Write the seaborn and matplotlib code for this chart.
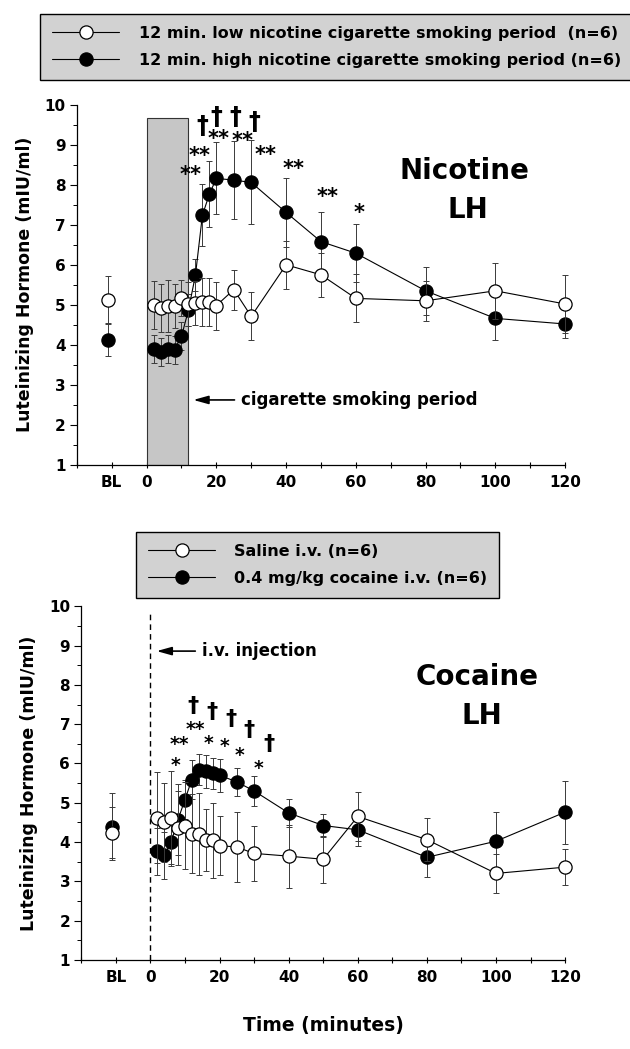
import numpy as np
import pandas as pd
import matplotlib
matplotlib.use("Agg")
import matplotlib.pyplot as plt
from matplotlib.lines import Line2D
from matplotlib.patches import Rectangle
import seaborn as sns

# ######################### Data #########################

TIMES = [2, 4, 6, 8, 10, 12, 14, 16, 18, 20, 25, 30, 40, 50, 60, 80, 100, 120]
BL_X = -11

low_nic    = [4.99, 4.91, 4.98, 4.96, 5.16, 5.02, 5.04, 5.06, 5.08, 4.98, 5.38, 4.71, 6.00, 5.75, 5.16, 5.10, 5.35, 5.02]
low_nic_se = [0.60, 0.60, 0.65, 0.55, 0.45, 0.55, 0.55, 0.60, 0.60, 0.60, 0.50, 0.60, 0.60, 0.55, 0.60, 0.50, 0.70, 0.72]
high_nic    = [3.89, 3.81, 3.89, 3.88, 4.21, 4.87, 5.74, 7.24, 7.77, 8.16, 8.12, 8.06, 7.31, 6.58, 6.29, 5.35, 4.66, 4.52]
high_nic_se = [0.35, 0.35, 0.35, 0.35, 0.35, 0.40, 0.40, 0.78, 0.82, 0.90, 0.98, 1.05, 0.86, 0.73, 0.72, 0.60, 0.55, 0.35]
low_nic_bl,  low_nic_bl_se  = 5.13, 0.60
high_nic_bl, high_nic_bl_se = 4.13, 0.42

saline    = [4.62, 4.50, 4.60, 4.36, 4.42, 4.21, 4.20, 4.05, 4.04, 3.91, 3.87, 3.71, 3.64, 3.56, 4.65, 4.06, 3.20, 3.36]
saline_se = [1.15, 1.00, 1.20, 0.95, 1.10, 1.00, 1.05, 0.80, 0.95, 0.75, 0.90, 0.70, 0.80, 0.60, 0.62, 0.55, 0.50, 0.45]
cocaine    = [3.76, 3.66, 4.00, 4.57, 5.08, 5.59, 5.84, 5.80, 5.75, 5.70, 5.53, 5.30, 4.74, 4.42, 4.31, 3.61, 4.02, 4.76]
cocaine_se = [0.60, 0.60, 0.55, 0.90, 0.50, 0.50, 0.40, 0.42, 0.40, 0.42, 0.35, 0.38, 0.35, 0.30, 0.40, 0.50, 0.75, 0.80]
saline_bl,  saline_bl_se  = 4.24, 0.65
cocaine_bl, cocaine_bl_se = 4.39, 0.85

X_TICKS = list(range(-20, 121, 10))
X_LABELS = ["", "BL", "0", "", "20", "", "40", "", "60", "", "80", "", "100", "", "120"]

# significance marks: (minute, level, text)
nic_marks = [
    (12.5, 8.24, "**"), (15.1, 8.73, "**"), (20.7, 9.14, "**"), (27.6, 9.10, "**"),
    (34.1, 8.74, "**"), (42.0, 8.39, "**"), (52.0, 7.70, "**"), (61.0, 7.30, "*"),
    (16.1, 9.46, "†"), (20.1, 9.69, "†"), (25.5, 9.69, "†"), (30.9, 9.58, "†"),
]
coc_marks = [
    (7.4, 5.95, "*"), (8.3, 6.47, "**"), (13.0, 6.86, "**"), (16.9, 6.52, "*"),
    (21.5, 6.42, "*"), (25.7, 6.20, "*"), (31.2, 5.87, "*"),
    (12.2, 7.47, "†"), (17.9, 7.32, "†"), (23.2, 7.12, "†"), (28.6, 6.86, "†"), (34.4, 6.50, "†"),
]

# ######################### Style #########################

sns.set_style("ticks")
plt.rcParams["font.family"] = ["DejaVu Sans"]
plt.rcParams["font.weight"] = "bold"
for key in ("text.color", "axes.labelcolor", "xtick.color", "ytick.color", "axes.edgecolor"):
    plt.rcParams[key] = "black"

MS = 9.5
LEG_BG = "#d2d2d2"


def draw_series(ax, y, se, bl, bl_se, filled, z):
    df = pd.DataFrame({"t": TIMES, "v": y})
    face = "black" if filled else "white"
    ax.errorbar(TIMES, y, yerr=se, fmt="none", ecolor="#3a3a3a",
                elinewidth=0.7, capsize=2.5, capthick=0.7, zorder=z - 1, clip_on=False)
    ax.errorbar([BL_X], [bl], yerr=[bl_se], fmt="none", ecolor="#3a3a3a",
                elinewidth=0.7, capsize=2.5, capthick=0.7, zorder=z - 1)
    sns.lineplot(data=df, x="t", y="v", ax=ax, color="black", linewidth=0.8,
                 marker="o", markersize=MS, markerfacecolor=face,
                 markeredgecolor="black", markeredgewidth=0.9,
                 zorder=z, clip_on=False)
    ax.plot([BL_X], [bl], "o", ms=MS, mfc=face, mec="black", mew=0.9, zorder=z)


def setup_axes(ax):
    ax.set_xlim(-20, 120)
    ax.set_ylim(1, 10)
    ax.set_xticks(X_TICKS)
    ax.set_xticklabels(X_LABELS, fontsize=11, fontweight="bold")
    ax.set_yticks(range(1, 11))
    ax.set_yticklabels([str(i) for i in range(1, 11)], fontsize=11, fontweight="bold")
    ax.set_yticks(np.arange(1.5, 10, 1), minor=True)
    ax.tick_params(axis="x", direction="inout", length=5, width=0.8, pad=5)
    ax.tick_params(axis="y", which="major", direction="out", length=5, width=0.8, pad=3)
    ax.tick_params(axis="y", which="minor", direction="out", length=3, width=0.7)
    ax.set_ylabel("Luteinizing Hormone (mIU/ml)", fontsize=12.5, fontweight="bold", labelpad=8)
    ax.set_xlabel("")
    sns.despine(ax=ax)
    for s in ("left", "bottom"):
        ax.spines[s].set_linewidth(0.9)


def draw_marks(ax, marks, star_size, dagger_size):
    for x, y, txt in marks:
        size = dagger_size if txt == "†" else star_size
        ax.text(x, y, txt, ha="center", va="center", fontsize=size,
                fontweight="bold", zorder=6)


fig = plt.figure(figsize=(6.3, 10.49), dpi=100)
ax1 = fig.add_axes([0.122, 0.557, 0.775, 0.343])
ax2 = fig.add_axes([0.129, 0.085, 0.768, 0.337])

# ######################### Nicotine panel #########################

ax1.add_patch(Rectangle((0, 1), 12, 8.67, facecolor="#c6c6c6", edgecolor="#333333",
                        linewidth=0.8, zorder=1))
draw_series(ax1, high_nic, high_nic_se, high_nic_bl, high_nic_bl_se, True, 4)
draw_series(ax1, low_nic, low_nic_se, low_nic_bl, low_nic_bl_se, False, 6)
setup_axes(ax1)
draw_marks(ax1, nic_marks, 15, 17)
ax1.text(91, 8.35, "Nicotine", ha="center", va="center", fontsize=20, fontweight="bold")
ax1.text(92, 7.38, "LH", ha="center", va="center", fontsize=20, fontweight="bold")
ax1.annotate("", xy=(12.6, 2.62), xytext=(26.0, 2.62),
             arrowprops=dict(arrowstyle="-|>,head_length=0.9,head_width=0.25",
                             color="black", lw=1.2))
ax1.text(27.0, 2.62, "cigarette smoking period", ha="left", va="center",
         fontsize=12, fontweight="bold")

# ######################### Cocaine panel #########################

ax2.plot([0, 0], [1, 9.85], color="black", linestyle=(0, (4, 3)), linewidth=1.0, zorder=1)
draw_series(ax2, cocaine, cocaine_se, cocaine_bl, cocaine_bl_se, True, 4)
draw_series(ax2, saline, saline_se, saline_bl, saline_bl_se, False, 6)
setup_axes(ax2)
draw_marks(ax2, coc_marks, 13.5, 16)
ax2.text(94.5, 8.2, "Cocaine", ha="center", va="center", fontsize=20, fontweight="bold")
ax2.text(96, 7.2, "LH", ha="center", va="center", fontsize=20, fontweight="bold")
ax2.annotate("", xy=(1.0, 8.86), xytext=(13.8, 8.86),
             arrowprops=dict(arrowstyle="-|>,head_length=0.9,head_width=0.25",
                             color="black", lw=1.2))
ax2.text(14.8, 8.86, "i.v. injection", ha="left", va="center",
         fontsize=12, fontweight="bold")
ax2.set_xlabel("Time (minutes)", fontsize=13.5, fontweight="bold", labelpad=22)

# ######################### Legends #########################

def make_handles(labels):
    h_open = Line2D([], [], color="black", lw=0.8, marker="o", ms=MS,
                    mfc="white", mec="black", mew=0.9)
    h_fill = Line2D([], [], color="black", lw=0.8, marker="o", ms=MS,
                    mfc="black", mec="black", mew=0.9)
    return [h_open, h_fill], labels


leg_kw = dict(loc="upper left", prop=dict(size=11.5, weight="bold"), handlelength=4.2,
              handletextpad=1.2, labelspacing=0.75, borderpad=0.75, borderaxespad=0,
              fancybox=False, frameon=True, edgecolor="black", facecolor=LEG_BG,
              framealpha=1)

h, l = make_handles(["12 min. low nicotine cigarette smoking period  (n=6)",
                     "12 min. high nicotine cigarette smoking period (n=6)"])
leg1 = fig.legend(h, l, bbox_to_anchor=(0.064, 0.987), **leg_kw)
leg1.get_frame().set_linewidth(1.0)

h, l = make_handles(["Saline i.v. (n=6)", "0.4 mg/kg cocaine i.v. (n=6)"])
leg2 = fig.legend(h, l, bbox_to_anchor=(0.216, 0.493), **leg_kw)
leg2.get_frame().set_linewidth(1.0)

fig.savefig("out.png", dpi=100)
plt.close(fig)
